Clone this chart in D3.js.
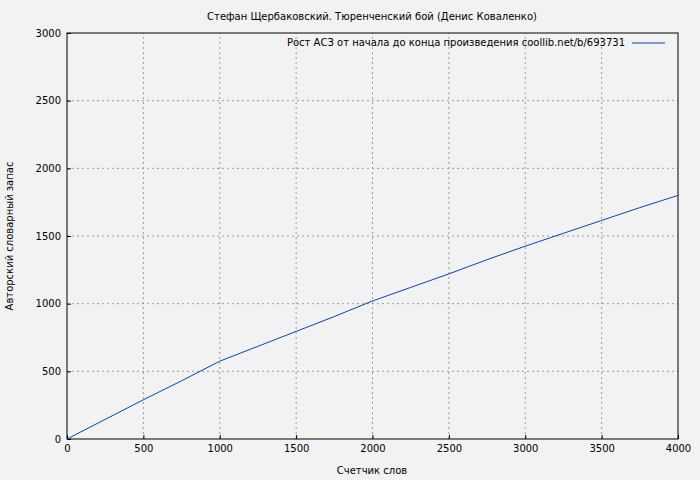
<!DOCTYPE html>
<html><head><meta charset="utf-8">
<script src="https://cdn.jsdelivr.net/npm/d3@7"></script>
<style>body{margin:0;background:#f2f2f2}text{font-family:"DejaVu Sans",sans-serif}</style>
</head><body><div id="chart"></div>
<script>
const words = [0, 250, 500, 750, 1000, 1250, 1500, 1750, 2000, 2250, 2500, 2750, 3000, 3250, 3500, 3750, 4000];
const vocab = [0, 145, 290, 430, 575, 685, 795, 905, 1020, 1120, 1220, 1325, 1425, 1520, 1615, 1710, 1800];
const xTicks = [0, 500, 1000, 1500, 2000, 2500, 3000, 3500, 4000];
const yTicks = [0, 500, 1000, 1500, 2000, 2500, 3000];

const W = 700, H = 480, m = { l: 67, r: 22, t: 33, b: 41 };
const svg = d3.select("#chart").append("svg").attr("width", W).attr("height", H);
svg.append("rect").attr("width", W).attr("height", H).attr("fill", "#f2f2f2");

const x = d3.scaleLinear().domain([0, 4000]).range([m.l, W - m.r]);
const y = d3.scaleLinear().domain([0, 3000]).range([H - m.b, m.t]);

// grid
svg.append("g").selectAll("line").data(xTicks.slice(1, -1)).join("line")
  .attr("x1", d => x(d)).attr("x2", d => x(d)).attr("y1", y(0)).attr("y2", y(3000))
  .attr("stroke", "#999").attr("stroke-dasharray", "2,3");
svg.append("g").selectAll("line").data(yTicks.slice(1, -1)).join("line")
  .attr("y1", d => y(d)).attr("y2", d => y(d)).attr("x1", x(0)).attr("x2", x(4000))
  .attr("stroke", "#999").attr("stroke-dasharray", "2,3");

svg.append("g").attr("transform", `translate(0,${y(0)})`)
  .call(d3.axisBottom(x).tickValues(xTicks).tickFormat(d3.format("d")).tickSizeInner(-4).tickSizeOuter(0).tickPadding(6))
  .call(g => g.select(".domain").remove())
  .selectAll("text").attr("font-size", 10).attr("fill", "#000");
svg.append("g").attr("transform", `translate(${x(0)},0)`)
  .call(d3.axisLeft(y).tickValues(yTicks).tickFormat(d3.format("d")).tickSizeInner(-4).tickSizeOuter(0).tickPadding(6))
  .call(g => g.select(".domain").remove())
  .selectAll("text").attr("font-size", 10).attr("fill", "#000");

svg.append("rect").attr("x", x(0)).attr("y", y(3000)).attr("width", x(4000) - x(0)).attr("height", y(0) - y(3000))
  .attr("fill", "none").attr("stroke", "#000");

svg.append("path").datum(words.map((w, i) => [w, vocab[i]]))
  .attr("d", d3.line().x(d => x(d[0])).y(d => y(d[1])))
  .attr("fill", "none").attr("stroke", "#0046b4").attr("stroke-width", 1);

svg.append("text").attr("x", 372).attr("y", 20).attr("text-anchor", "middle").attr("font-size", 10)
  .text("Стефан Щербаковский. Тюренченский бой (Денис Коваленко)");
svg.append("text").attr("x", 372).attr("y", 474).attr("text-anchor", "middle").attr("font-size", 10)
  .text("Счетчик слов");
svg.append("text").attr("transform", `translate(13,${(y(0) + y(3000)) / 2}) rotate(-90)`)
  .attr("text-anchor", "middle").attr("font-size", 10).text("Авторский словарный запас");

svg.append("text").attr("x", 625).attr("y", 46).attr("text-anchor", "end").attr("font-size", 10)
  .text("Рост АСЗ от начала до конца произведения coollib.net/b/693731");
svg.append("line").attr("x1", 632).attr("x2", 665).attr("y1", 43).attr("y2", 43)
  .attr("stroke", "#0046b4");
</script></body></html>
